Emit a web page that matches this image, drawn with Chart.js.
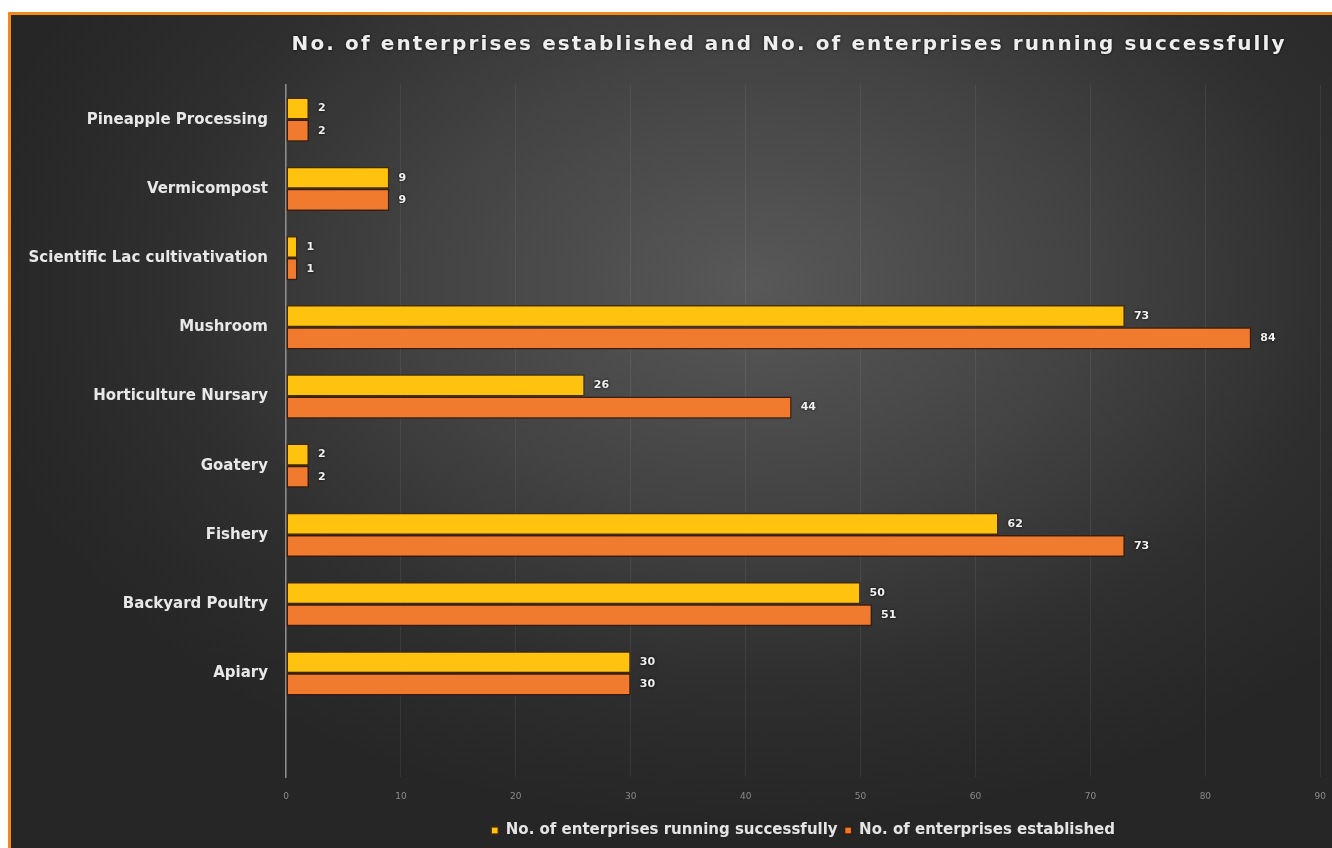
<!DOCTYPE html>
<html>
<head>
<meta charset="utf-8">
<title>Enterprises established and running successfully</title>
<script src="https://cdn.jsdelivr.net/npm/chart.js@4.4.1/dist/chart.umd.min.js"></script>
<style>
  html, body { margin:0; padding:0; background:#ffffff; overflow:hidden; }
  #frame {
    position:absolute; left:8px; top:12px; width:1324px; height:836px;
    border-top:3px solid #f08a1c; border-left:3px solid #f08a1c;
    background:radial-gradient(ellipse 60% 65% at 56% 32%, #585858 0%, #444444 40%, #2e2e2e 75%, #262626 100%);
    overflow:hidden;
  }
  #wrap { position:absolute; left:0; top:0; width:1329px; height:833px; }
</style>
</head>
<body>
<div id="frame"><div id="wrap"><canvas id="chart"></canvas></div></div>
<script>
// ── DATOS ──────────────────────────────────────────
var TITLE = 'No. of enterprises established and No. of enterprises running successfully';
var CATEGORIES = [
  'Pineapple Processing', 'Vermicompost', 'Scientific Lac cultivativation', 'Mushroom',
  'Horticulture Nursary', 'Goatery', 'Fishery', 'Backyard Poultry', 'Apiary', ''
];
var RUNNING     = [2, 9, 1, 73, 26, 2, 62, 50, 30, null];
var ESTABLISHED = [2, 9, 1, 84, 44, 2, 73, 51, 30, null];
var SERIES_NAMES = ['No. of enterprises running successfully', 'No. of enterprises established'];
var X_MAX = 90, X_STEP = 10;

var FONT = "'DejaVu Sans', 'Noto Sans', sans-serif";

// título centrado sobre el área del gráfico
var titlePlugin = {
  id: 'titleOverArea',
  afterDraw: function (chart) {
    var ctx = chart.ctx, a = chart.chartArea;
    ctx.save();
    ctx.font = 'bold 20px ' + FONT;
    ctx.letterSpacing = '2.1px';
    ctx.fillStyle = '#eeeeee';
    ctx.textAlign = 'center';
    ctx.textBaseline = 'middle';
    ctx.shadowColor = 'rgba(0,0,0,.8)'; ctx.shadowBlur = 3;
    ctx.fillText(TITLE, (a.left + a.right) / 2 - 14, 30);
    ctx.restore();
  }
};

// etiquetas de valor al final de cada barra
var valueLabels = {
  id: 'valueLabels',
  afterDatasetsDraw: function (chart) {
    var ctx = chart.ctx;
    ctx.save();
    ctx.font = 'bold 11px ' + FONT;
    ctx.fillStyle = '#f0f0f0';
    ctx.textAlign = 'left';
    ctx.textBaseline = 'middle';
    ctx.shadowColor = 'rgba(0,0,0,.9)'; ctx.shadowBlur = 3;
    chart.data.datasets.forEach(function (ds, i) {
      chart.getDatasetMeta(i).data.forEach(function (bar, j) {
        var v = ds.data[j];
        if (v === null || v === undefined) return;
        ctx.fillText(String(v), bar.x + 9, bar.y);
      });
    });
    ctx.restore();
  }
};

new Chart(document.getElementById('chart'), {
  type: 'bar',
  data: {
    labels: CATEGORIES,
    datasets: [
      {
        label: SERIES_NAMES[0],
        data: RUNNING,
        backgroundColor: '#ffc20e',
        borderColor: 'rgba(70,40,5,.85)',
        borderWidth: 1.5,
        borderSkipped: false,
        categoryPercentage: 0.64,
        barPercentage: 1.0
      },
      {
        label: SERIES_NAMES[1],
        data: ESTABLISHED,
        backgroundColor: '#f07b2e',
        borderColor: 'rgba(60,25,5,.9)',
        borderWidth: 1.5,
        borderSkipped: false,
        categoryPercentage: 0.64,
        barPercentage: 1.0
      }
    ]
  },
  options: {
    indexAxis: 'y',
    responsive: true,
    maintainAspectRatio: false,
    animation: false,
    layout: { padding: { top: 70, right: 8, bottom: 0, left: 0 } },
    plugins: {
      title: { display: false },
      tooltip: { enabled: false },
      legend: {
        position: 'bottom',
        fullSize: false,
        labels: {
          color: '#e4e4e4',
          font: { family: FONT, size: 15, weight: 'bold' },
          boxWidth: 7, boxHeight: 7,
          padding: 7
        }
      }
    },
    scales: {
      x: {
        min: 0, max: X_MAX,
        ticks: { stepSize: X_STEP, color: '#8a8a8a', font: { family: FONT, size: 9 }, padding: 14 },
        grid: { color: 'rgba(255,255,255,.07)', drawTicks: false },
        border: { display: false }
      },
      y: {
        afterFit: function (scale) { scale.width = 275; },
        ticks: { color: '#e8e8e8', font: { family: FONT, size: 15, weight: 'bold' }, padding: 10 },
        grid: { display: false },
        border: { display: true, color: '#8c8c8c', width: 1.5 }
      }
    }
  },
  plugins: [titlePlugin, valueLabels]
});
</script>
</body>
</html>
